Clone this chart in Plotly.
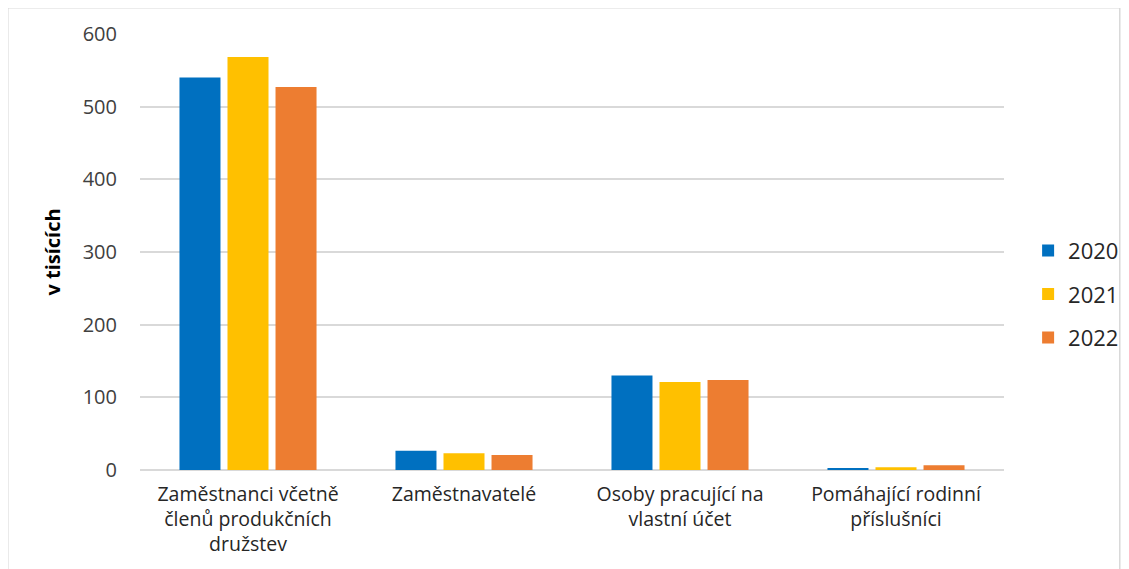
import plotly.graph_objects as go

# Categories (x axis) and values in thousands
categories = [
    "Zaměstnanci včetně<br>členů produkčních<br>družstev",
    "Zaměstnavatelé",
    "Osoby pracující na<br>vlastní účet",
    "Pomáhající rodinní<br>příslušníci",
]
years = ["2020", "2021", "2022"]
values_2020 = [540, 26.5, 130, 2.3]
values_2021 = [568.5, 23, 121, 3.7]
values_2022 = [527, 20.6, 124, 6.5]

colors = ["#0070C0", "#FFC000", "#ED7D31"]
series = [values_2020, values_2021, values_2022]

fig = go.Figure()
for year, vals, col in zip(years, series, colors):
    fig.add_trace(go.Bar(
        x=categories,
        y=vals,
        name=year,
        legendgroup=year,
        marker=dict(color=col, line=dict(width=0)),
    ))

# page body has an 8px margin, so the figure is shrunk by that much
fig.update_layout(
    width=1121,
    height=561,
    paper_bgcolor="white",
    plot_bgcolor="white",
    font=dict(family="Open Sans, Arial", color="#404040"),
    barmode="group",
    bargap=0.333,
    bargroupgap=0.146,
    margin=dict(l=132, r=125, t=26, b=99),
    showlegend=True,
    legend=dict(
        xref="container", yref="container",
        x=0.91, xanchor="left",
        y=0.49, yanchor="middle",
        bgcolor="rgba(0,0,0,0)",
        font=dict(size=22, color="#262626"),
        traceorder="grouped",
        tracegroupgap=12,
        itemwidth=30,
    ),
    yaxis=dict(
        range=[0, 600],
        dtick=100,
        showgrid=True,
        gridcolor="#D9D9D9",
        gridwidth=1.5,
        zeroline=True,
        zerolinecolor="#D9D9D9",
        zerolinewidth=1.5,
        tickfont=dict(size=20, color="#404040"),
        ticks="",
        ticklabelstandoff=22,
        title=dict(text="<b>v tisících</b>", font=dict(size=20, color="#000000"), standoff=16),
    ),
    xaxis=dict(
        showgrid=False,
        showline=False,
        tickfont=dict(size=19.5, color="#262626"),
        ticks="",
        ticklabelstandoff=10,
    ),
    shapes=[dict(
        type="rect", xref="paper", yref="paper",
        x0=-0.153, x1=1.134, y0=-0.3, y1=1.06,
        line=dict(color="#D9D9D9", width=1.5),
        fillcolor="rgba(0,0,0,0)",
        layer="below",
    )],
)

fig.write_html("out.html")
